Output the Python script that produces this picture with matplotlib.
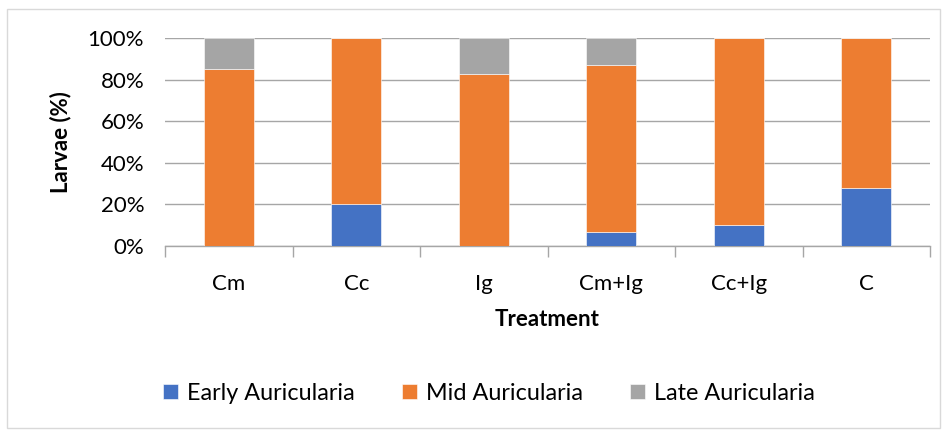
import matplotlib
matplotlib.use("Agg")
import matplotlib.pyplot as plt
from matplotlib.patches import Rectangle
from matplotlib.ticker import FuncFormatter, FixedLocator

plt.rcParams['font.family'] = ['Lato', 'DejaVu Sans']

treatments = ["Cm", "Cc", "Ig", "Cm+Ig", "Cc+Ig", "C"]
early = [0, 20, 0, 6.5, 10, 28]
mid = [85, 80, 82.5, 80.5, 90, 72]
late = [15, 0, 17.5, 13, 0, 0]
series_names = ["Early Auricularia", "Mid Auricularia", "Late Auricularia"]
colors = ["#4472C4", "#ED7D31", "#A5A5A5"]

FS = 16

fig = plt.figure(figsize=(9.47, 4.30), dpi=100)
ax = fig.add_axes([165 / 947, 1 - 246 / 430, (930 - 165) / 947, 208 / 430])

x = list(range(len(treatments)))
width = 0.39
bottom = [0] * len(x)
handles = []
for vals, name, col in zip([early, mid, late], series_names, colors):
    b = ax.bar(x, vals, width, bottom=bottom, color=col, label=name,
               edgecolor='white', linewidth=0.4, zorder=3)
    handles.append(b)
    bottom = [bt + v for bt, v in zip(bottom, vals)]

ax.set_xlim(-0.5, len(x) - 0.5)
ax.set_ylim(0, 100)
ax.set_yticks(range(0, 101, 20))
ax.yaxis.set_major_formatter(FuncFormatter(lambda v, p: f"{int(v)}%"))
ax.grid(axis='y', color='#a6a6a6', linewidth=1.0, zorder=0)
ax.tick_params(axis='y', length=0, labelsize=FS, pad=15, colors='black')

ax.set_xticks(x)
ax.set_xticklabels(treatments)
ax.tick_params(axis='x', length=0, labelsize=FS, pad=20)
ax.xaxis.set_minor_locator(FixedLocator([i - 0.5 for i in range(len(x) + 1)]))
ax.tick_params(axis='x', which='minor', length=8, color='#a6a6a6', width=1.0)

for s in ['top', 'right', 'left']:
    ax.spines[s].set_visible(False)
ax.spines['bottom'].set_color('#a6a6a6')
ax.spines['bottom'].set_linewidth(1.0)

ax.set_xlabel("Treatment", fontsize=FS, fontweight='bold', labelpad=11)
ax.set_ylabel("Larvae (%)", fontsize=FS, fontweight='bold', labelpad=12)

fig.legend(handles=handles, labels=series_names, loc='center',
           bbox_to_anchor=(489 / 947, 1 - 393 / 430), ncol=3, frameon=False,
           fontsize=16.8, handlelength=0.65, handleheight=0.65,
           handletextpad=0.4, columnspacing=2.0)

fig.patches.append(Rectangle((7 / 947, 2 / 430), 933 / 947, 419 / 430,
                             transform=fig.transFigure, fill=False,
                             edgecolor='#d9d9d9', linewidth=1.0))

fig.savefig("out.png", dpi=100)
